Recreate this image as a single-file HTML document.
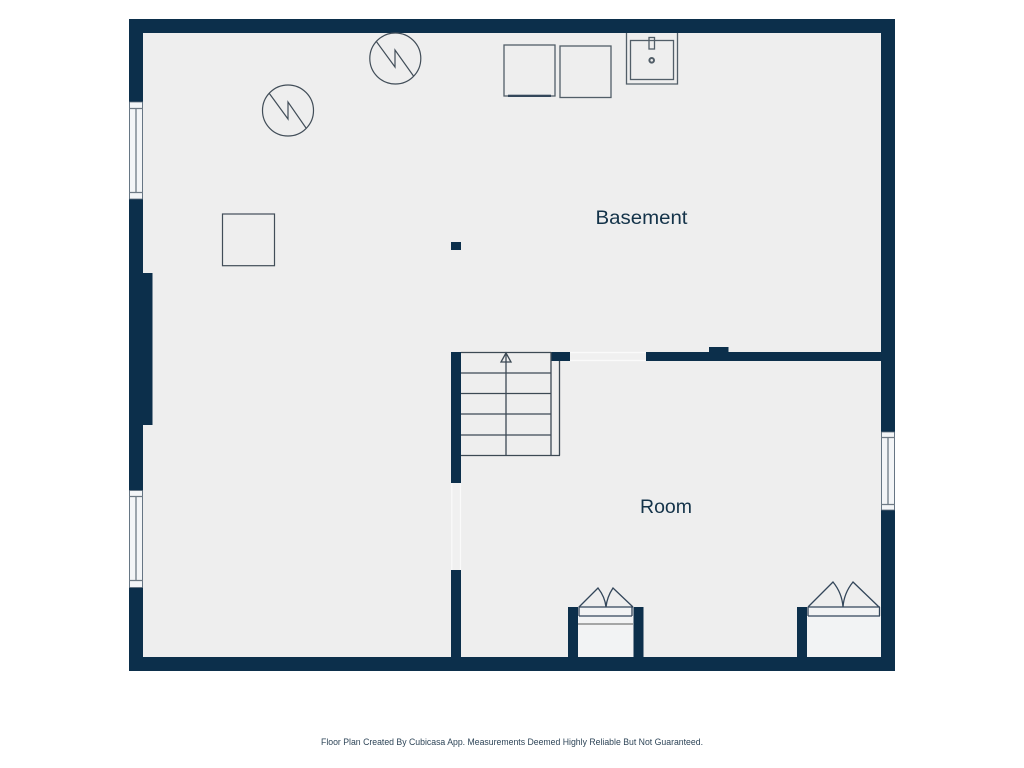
<!DOCTYPE html>
<html>
<head>
<meta charset="utf-8">
<style>
html,body{margin:0;padding:0;background:#fff;width:1024px;height:768px;overflow:hidden}
svg{display:block}
text{font-family:"Liberation Sans",sans-serif}
</style>
</head>
<body>
<svg width="1024" height="768" viewBox="0 0 1024 768" xmlns="http://www.w3.org/2000/svg">
<rect width="1024" height="768" fill="#ffffff"/>
<!-- floor -->
<rect x="143" y="33" width="738" height="624" fill="#eeeeee"/>
<!-- outer walls -->
<g fill="#0c2f4b">
<rect x="129" y="19" width="766" height="14"/>
<rect x="129" y="657" width="766" height="14"/>
<rect x="129" y="19" width="14" height="652"/>
<rect x="881" y="19" width="14" height="652"/>
<rect x="143" y="273" width="9.500" height="152"/>
<!-- interior walls -->
<rect x="646" y="352" width="235" height="9"/>
<rect x="709" y="347" width="19.500" height="5"/>
<rect x="551" y="352" width="19" height="9"/>
<rect x="451" y="352" width="10" height="131"/>
<rect x="451" y="570" width="10" height="87"/>
<rect x="451" y="242" width="10" height="8"/>
<!-- closets -->
<rect x="568" y="607" width="10" height="50"/>
<rect x="633.500" y="607" width="10" height="50"/>
<rect x="797" y="607" width="10" height="50"/>
</g>
<!-- door openings -->
<rect x="570" y="352" width="76" height="9" fill="#f0f0f0"/>
<path d="M570 352.500H646M570 360.500H646" stroke="#fafafa" stroke-width="1.200" fill="none"/>
<rect x="451" y="483" width="10" height="87" fill="#f0f0f0"/>
<path d="M451.800 483V570M460.500 483V570" stroke="#fafafa" stroke-width="1.200" fill="none"/>
<!-- windows -->
<g fill="#f3f5f7" stroke="#5f6f7d" stroke-width="0.8">
<rect x="129.500" y="102" width="13" height="97"/>
<rect x="129.500" y="490.500" width="13" height="97"/>
<rect x="881.500" y="432" width="13" height="78"/>
</g>
<g stroke="#6e7a85" stroke-width="1.300" fill="none">
<path d="M129 108.500H143M129 192.500H143M136 108.500V192.500"/>
<path d="M129 496.500H143M129 580.500H143M136 496.500V580.500"/>
<path d="M881 437.500H895M881 504.500H895M888 437.500V504.500"/>
</g>
<!-- closet interiors -->
<rect x="578" y="607" width="55.500" height="50" fill="#f2f3f4"/>
<rect x="807" y="616" width="74" height="41" fill="#f2f3f4"/>
<rect x="808" y="607" width="71" height="9" fill="#f2f3f4"/>
<g fill="none" stroke="#33465a" stroke-width="1.300">
<path d="M578.500 607H633M579 616H632"/>
<path d="M578 624H633" stroke="#777"/>
<path d="M579 607.500V616M632 607.500V616"/>
<path d="M579 607L598 588Q605 597 606 607Q607 597 613 588L633 607"/>
<path d="M808 607H880M808 616H880M808 607V616M879.500 607V616"/>
<path d="M808 607L833 582Q842 593 843 607Q844 593 853 582L879 607"/>
</g>
<!-- stairs -->
<g fill="none" stroke="#3c4954" stroke-width="1.300">
<path d="M461 352.500H551"/>
<path d="M461 373H551M461 393.500H551M461 414H551M461 435H551"/>
<path d="M461 455.500H560"/>
<path d="M506 353V455.500"/>
<path d="M551 352V455.500M559.500 361V455.500"/>
<path d="M501 362H511L506 353Z"/>
</g>
<!-- circles -->
<g fill="none" stroke="#414d58" stroke-width="1.200">
<circle cx="288" cy="110.500" r="25.500"/>
<path d="M269 93L288 119V102L306 128"/>
<circle cx="395.300" cy="58.500" r="25.500"/>
<path d="M376 41L395 67V50L413.500 76"/>
<!-- square -->
<rect x="222.500" y="214" width="52" height="51.700"/>
</g>
<!-- fixtures -->
<g fill="none" stroke="#525e68" stroke-width="1.300">
<rect x="504" y="45" width="51" height="51"/>
<rect x="560" y="46" width="51" height="51.500"/>
<path d="M626.500 33V84H677.500V33"/>
<rect x="630.500" y="40.500" width="43" height="39"/>
<rect x="649" y="37.500" width="5.500" height="11.500"/>
<circle cx="651.700" cy="60.300" r="2.300" stroke-width="2"/>
</g>
<rect x="508" y="94.700" width="43" height="2.300" fill="#33465a"/>
<!-- labels -->
<text x="595.500" y="224" font-size="19.500" fill="#143349" textLength="92" lengthAdjust="spacingAndGlyphs">Basement</text>
<text x="640" y="513" font-size="19.500" fill="#143349" textLength="52" lengthAdjust="spacingAndGlyphs">Room</text>
<text x="321" y="745" font-size="9" fill="#2e4558" textLength="382" lengthAdjust="spacingAndGlyphs">Floor Plan Created By Cubicasa App. Measurements Deemed Highly Reliable But Not Guaranteed.</text>
</svg>
</body>
</html>
